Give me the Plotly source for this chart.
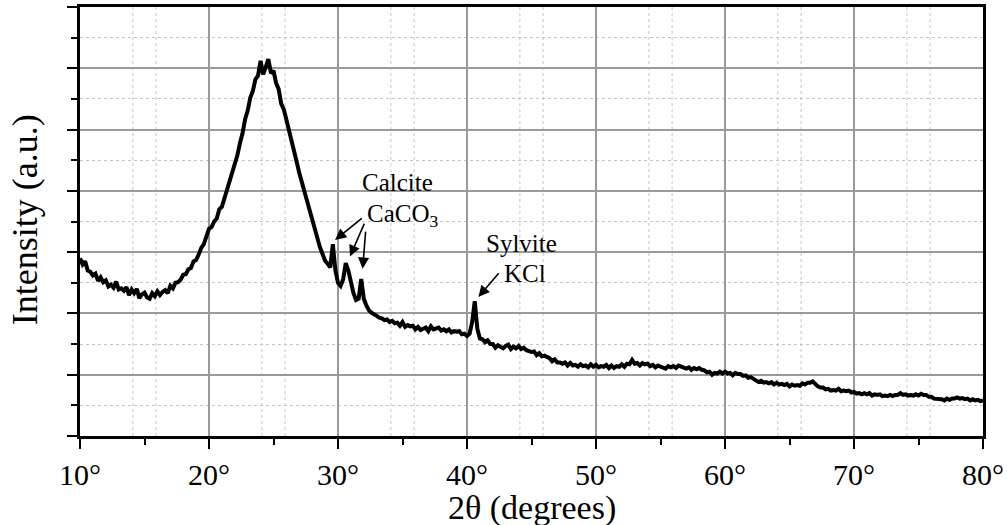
import numpy as np
import plotly.graph_objects as go

# XRD scan: 2θ from 10° to 80° sampled every 0.2°
scan_start, scan_step = 10.0, 0.2
intensity = [
    2.90, 2.80, 2.85, 2.70, 2.68, 2.62, 2.65, 2.53, 2.59, 2.51,   # 10.0 - 11.8
    2.54, 2.44, 2.47, 2.42, 2.52, 2.39, 2.41, 2.37, 2.43, 2.30,   # 12.0 - 13.8
    2.39, 2.33, 2.40, 2.25, 2.31, 2.34, 2.26, 2.24, 2.33, 2.28,   # 14.0 - 15.8
    2.36, 2.30, 2.35, 2.38, 2.33, 2.45, 2.41, 2.50, 2.51, 2.55,   # 16.0 - 17.8
    2.63, 2.64, 2.72, 2.74, 2.85, 2.87, 2.96, 3.07, 3.13, 3.26,   # 18.0 - 19.8
    3.38, 3.41, 3.50, 3.55, 3.70, 3.74, 3.88, 4.03, 4.14, 4.32,   # 20.0 - 21.8
    4.46, 4.58, 4.78, 4.94, 5.17, 5.31, 5.52, 5.63, 5.82, 5.88,   # 22.0 - 23.8
    6.12, 5.90, 6.02, 6.15, 5.92, 5.96, 5.76, 5.66, 5.42, 5.33,   # 24.0 - 25.8
    5.16, 4.97, 4.81, 4.62, 4.47, 4.29, 4.14, 3.97, 3.85, 3.66,   # 26.0 - 27.8
    3.54, 3.38, 3.26, 3.08, 2.97, 2.86, 2.81, 2.75, 3.13, 2.70,   # 28.0 - 29.8
    2.50, 2.45, 2.56, 2.82, 2.70, 2.47, 2.33, 2.22, 2.24, 2.56,   # 30.0 - 31.8
    2.24, 2.13, 2.05, 2.01, 1.99, 1.96, 1.93, 1.92, 1.89, 1.90,   # 32.0 - 33.8
    1.86, 1.88, 1.84, 1.85, 1.80, 1.86, 1.78, 1.81, 1.79, 1.80,   # 34.0 - 35.8
    1.74, 1.78, 1.73, 1.76, 1.77, 1.71, 1.79, 1.74, 1.75, 1.77,   # 36.0 - 37.8
    1.72, 1.74, 1.71, 1.74, 1.69, 1.71, 1.70, 1.71, 1.66, 1.67,   # 38.0 - 39.8
    1.63, 1.67, 1.86, 2.20, 1.75, 1.59, 1.58, 1.53, 1.56, 1.50,   # 40.0 - 41.8
    1.50, 1.44, 1.48, 1.45, 1.43, 1.47, 1.49, 1.42, 1.46, 1.43,   # 42.0 - 43.8
    1.47, 1.42, 1.44, 1.40, 1.38, 1.37, 1.38, 1.32, 1.35, 1.30,   # 44.0 - 45.8
    1.31, 1.28, 1.27, 1.22, 1.25, 1.20, 1.20, 1.18, 1.20, 1.15,   # 46.0 - 47.8
    1.19, 1.15, 1.16, 1.13, 1.17, 1.14, 1.15, 1.12, 1.17, 1.13,   # 48.0 - 49.8
    1.16, 1.12, 1.14, 1.13, 1.16, 1.11, 1.15, 1.11, 1.14, 1.13,   # 50.0 - 51.8
    1.17, 1.13, 1.18, 1.17, 1.24, 1.18, 1.19, 1.15, 1.19, 1.17,   # 52.0 - 53.8
    1.18, 1.14, 1.16, 1.12, 1.15, 1.13, 1.12, 1.10, 1.14, 1.12,   # 54.0 - 55.8
    1.14, 1.11, 1.15, 1.13, 1.12, 1.10, 1.12, 1.08, 1.11, 1.09,   # 56.0 - 57.8
    1.11, 1.08, 1.07, 1.04, 1.05, 1.00, 1.03, 1.02, 1.05, 1.02,   # 58.0 - 59.8
    1.05, 1.02, 1.03, 0.99, 1.03, 1.01, 1.01, 0.98, 0.99, 0.95,   # 60.0 - 61.8
    0.96, 0.93, 0.92, 0.88, 0.90, 0.87, 0.88, 0.86, 0.88, 0.84,   # 62.0 - 63.8
    0.87, 0.84, 0.85, 0.83, 0.85, 0.81, 0.84, 0.82, 0.83, 0.82,   # 64.0 - 65.8
    0.86, 0.84, 0.87, 0.87, 0.89, 0.84, 0.81, 0.79, 0.79, 0.76,   # 66.0 - 67.8
    0.77, 0.74, 0.75, 0.74, 0.77, 0.73, 0.74, 0.73, 0.74, 0.71,   # 68.0 - 69.8
    0.72, 0.69, 0.70, 0.68, 0.70, 0.68, 0.70, 0.66, 0.68, 0.67,   # 70.0 - 71.8
    0.68, 0.65, 0.66, 0.65, 0.67, 0.65, 0.67, 0.67, 0.70, 0.67,   # 72.0 - 73.8
    0.68, 0.66, 0.67, 0.66, 0.68, 0.66, 0.69, 0.67, 0.67, 0.64,   # 74.0 - 75.8
    0.64, 0.61, 0.61, 0.60, 0.60, 0.58, 0.61, 0.59, 0.61, 0.61,   # 76.0 - 77.8
    0.63, 0.61, 0.62, 0.60, 0.61, 0.58, 0.60, 0.58, 0.59, 0.57,   # 78.0 - 79.8
    0.58,                                                         # 80.0
]
two_theta = np.round(scan_start + scan_step * np.arange(len(intensity)), 2)

x_ticks = [10, 20, 30, 40, 50, 60, 70, 80]
x_tick_labels = ["10°", "20°", "30°", "40°", "50°", "60°", "70°", "80°"]
y_major = [0, 1, 2, 3, 4, 5, 6, 7]

# Phase labels and the reflections they point to: (tail x, tail y, tip x, tip y)
calcite_arrows = [
    (31.96, 3.57, 29.77, 3.20),
    (32.09, 3.49, 30.93, 2.93),
    (32.15, 3.36, 31.91, 2.73),
]
sylvite_arrows = [(42.56, 2.68, 40.88, 2.27)]

serif = "Liberation Serif"

fig = go.Figure()
fig.add_trace(go.Scatter(
    x=two_theta, y=intensity, mode="lines",
    line=dict(color="black", width=4),
    showlegend=False, hoverinfo="skip",
))

# dotted vertical guide lines
shapes = []
for d in range(10, 80, 10):
    for off in (4.1, 5.9):
        shapes.append(dict(
            type="line", xref="x", yref="paper", x0=d + off, x1=d + off, y0=0, y1=1,
            line=dict(color="#c4c4c4", width=1, dash="dot"), layer="below",
        ))

annotations = []
for tx, ty, hx, hy in calcite_arrows + sylvite_arrows:
    annotations.append(dict(
        x=hx, y=hy, ax=tx, ay=ty, xref="x", yref="y", axref="x", ayref="y",
        text="", showarrow=True, arrowhead=2, arrowsize=1.4, arrowwidth=1.6,
        arrowcolor="black", standoff=0, startstandoff=0,
    ))
label_font = dict(family=serif, size=25, color="black")
title_font = dict(family=serif, size=34, color="black")
annotations += [
    dict(x=34.6, y=4.14, text="Calcite", showarrow=False, font=label_font),
    dict(x=35.0, y=3.60, text="CaCO<sub>3</sub>", showarrow=False, font=label_font),
    dict(x=44.2, y=3.14, text="Sylvite", showarrow=False, font=label_font),
    dict(x=44.5, y=2.65, text="KCl", showarrow=False, font=label_font),
    # axis titles
    dict(x=0.5, y=-0.167, xref="paper", yref="paper", text="2θ (degrees)",
         showarrow=False, font=title_font, xanchor="center", yanchor="middle"),
    dict(x=-0.061, y=0.505, xref="paper", yref="paper", text="Intensity (a.u.)",
         showarrow=False, font=dict(family=serif, size=36, color="black"),
         textangle=-90, xanchor="center", yanchor="middle"),
]

fig.update_layout(
    width=1007, height=525,
    margin=dict(l=80, r=24, t=7, b=89, autoexpand=False),
    paper_bgcolor="white", plot_bgcolor="white",
    font=dict(family=serif, color="black", size=30),
    shapes=shapes, annotations=annotations,
)
fig.update_xaxes(
    range=[10, 80], tickmode="array", tickvals=x_ticks, ticktext=x_tick_labels,
    tickfont=dict(family=serif, size=30, color="black"),
    ticks="outside", ticklen=10, tickwidth=2, tickcolor="black",
    showline=True, linewidth=3, linecolor="black", mirror=True,
    showgrid=True, gridcolor="#9a9a9a", gridwidth=1.5,
    zeroline=False, automargin=False,
    minor=dict(dtick=5, tick0=0, ticks="outside", ticklen=6, tickwidth=2,
               tickcolor="black", showgrid=False),
)
fig.update_yaxes(
    range=[0, 7], tickmode="array", tickvals=y_major, showticklabels=False,
    ticks="outside", ticklen=10, tickwidth=2, tickcolor="black",
    showline=True, linewidth=3, linecolor="black", mirror=True,
    showgrid=True, gridcolor="#9a9a9a", gridwidth=1.5,
    zeroline=False, automargin=False,
    minor=dict(dtick=0.5, tick0=0, ticks="outside", ticklen=6, tickwidth=2,
               tickcolor="black", showgrid=True, gridcolor="#c4c4c4",
               gridwidth=1, griddash="dot"),
)

fig.write_html("out.html")
